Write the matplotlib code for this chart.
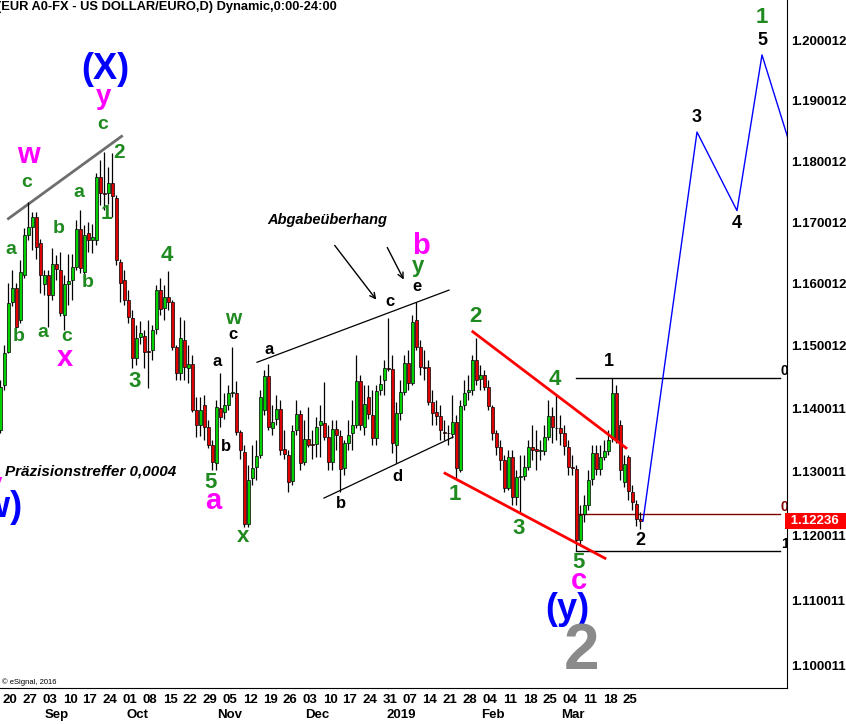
import numpy as np
import pandas as pd
import matplotlib
matplotlib.use('Agg')
from matplotlib import pyplot as plt
import matplotlib.transforms as mtransforms
from matplotlib.ticker import NullLocator

plt.rcParams['font.family'] = ['Liberation Sans', 'DejaVu Sans']

# daily candles, EUR A0-FX
days = pd.bdate_range('2018-08-17', '2019-03-29')

opens = [1.1366, 1.1438, 1.1490, 1.1571, 1.1593, 1.1542, 1.1614, 1.1679, 1.1692, 1.1709,
         1.1666, 1.1600, 1.1614, 1.1582, 1.1632, 1.1622, 1.1550, 1.1600, 1.1606, 1.1627,
         1.1689, 1.1619, 1.1683, 1.1671, 1.1671, 1.1774, 1.1748, 1.1748, 1.1764, 1.1740,
         1.1635, 1.1606, 1.1574, 1.1545, 1.1481, 1.1515, 1.1516, 1.1492, 1.1494, 1.1527,
         1.1590, 1.1561, 1.1579, 1.1571, 1.1498, 1.1457, 1.1510, 1.1465, 1.1471, 1.1398,
         1.1374, 1.1406, 1.1371, 1.1342, 1.1314, 1.1401, 1.1395, 1.1406, 1.1425, 1.1425,
         1.1363, 1.1332, 1.1218, 1.1291, 1.1308, 1.1327, 1.1398, 1.1452, 1.1369, 1.1384,
         1.1400, 1.1336, 1.1327, 1.1286, 1.1366, 1.1392, 1.1316, 1.1352, 1.1344, 1.1344,
         1.1374, 1.1377, 1.1355, 1.1316, 1.1368, 1.1357, 1.1306, 1.1346, 1.1362, 1.1374,
         1.1444, 1.1371, 1.1419, 1.1390, 1.1354, 1.1430, 1.1446, 1.1465, 1.1463, 1.1343,
         1.1393, 1.1427, 1.1473, 1.1441, 1.1542, 1.1498, 1.1467, 1.1466, 1.1411, 1.1395,
         1.1388, 1.1363, 1.1362, 1.1360, 1.1379, 1.1303, 1.1406, 1.1427, 1.1430, 1.1478,
         1.1447, 1.1454, 1.1434, 1.1403, 1.1362, 1.1339, 1.1319, 1.1275, 1.1324, 1.1261,
         1.1292, 1.1294, 1.1308, 1.1339, 1.1336, 1.1333, 1.1333, 1.1355, 1.1389, 1.1370,
         1.1369, 1.1362, 1.1339, 1.1308, 1.1305, 1.1193, 1.1234, 1.1248, 1.1289, 1.1330,
         1.1305, 1.1324, 1.1333, 1.1354, 1.1425, 1.1374, 1.1284, 1.1324, 1.1269, 1.1250,
         1.1226]
highs = [1.1446, 1.1502, 1.1601, 1.1622, 1.1601, 1.1639, 1.1691, 1.1733, 1.1717, 1.1717,
         1.1672, 1.1622, 1.1622, 1.1658, 1.1647, 1.1651, 1.1614, 1.1648, 1.1648, 1.1704,
         1.1720, 1.1696, 1.1700, 1.1697, 1.1781, 1.1802, 1.1815, 1.1790, 1.1813, 1.1745,
         1.1640, 1.1622, 1.1590, 1.1558, 1.1534, 1.1541, 1.1526, 1.1542, 1.1534, 1.1598,
         1.1609, 1.1598, 1.1621, 1.1574, 1.1502, 1.1547, 1.1542, 1.1502, 1.1486, 1.1419,
         1.1419, 1.1422, 1.1382, 1.1350, 1.1414, 1.1457, 1.1425, 1.1438, 1.1499, 1.1444,
         1.1366, 1.1342, 1.1311, 1.1343, 1.1350, 1.1430, 1.1462, 1.1471, 1.1406, 1.1422,
         1.1414, 1.1366, 1.1335, 1.1374, 1.1414, 1.1398, 1.1382, 1.1403, 1.1366, 1.1387,
         1.1406, 1.1443, 1.1374, 1.1382, 1.1382, 1.1366, 1.1350, 1.1382, 1.1414, 1.1486,
         1.1454, 1.1438, 1.1438, 1.1430, 1.1438, 1.1454, 1.1478, 1.1545, 1.1486, 1.1411,
         1.1446, 1.1486, 1.1494, 1.1550, 1.1571, 1.1510, 1.1494, 1.1478, 1.1430, 1.1414,
         1.1406, 1.1382, 1.1374, 1.1422, 1.1390, 1.1414, 1.1446, 1.1454, 1.1486, 1.1513,
         1.1470, 1.1462, 1.1446, 1.1406, 1.1366, 1.1350, 1.1327, 1.1335, 1.1335, 1.1303,
         1.1327, 1.1327, 1.1350, 1.1374, 1.1366, 1.1350, 1.1374, 1.1414, 1.1403, 1.1422,
         1.1390, 1.1374, 1.1350, 1.1327, 1.1311, 1.1248, 1.1264, 1.1303, 1.1343, 1.1343,
         1.1343, 1.1350, 1.1366, 1.1449, 1.1438, 1.1382, 1.1327, 1.1327, 1.1279, 1.1256,
         1.1237]
lows = [1.1362, 1.1430, 1.1489, 1.1564, 1.1529, 1.1537, 1.1610, 1.1671, 1.1655, 1.1640,
        1.1585, 1.1582, 1.1531, 1.1574, 1.1606, 1.1548, 1.1526, 1.1566, 1.1574, 1.1622,
        1.1618, 1.1603, 1.1652, 1.1650, 1.1663, 1.1728, 1.1720, 1.1730, 1.1709, 1.1631,
        1.1571, 1.1566, 1.1537, 1.1465, 1.1470, 1.1503, 1.1465, 1.1433, 1.1478, 1.1519,
        1.1550, 1.1542, 1.1558, 1.1494, 1.1446, 1.1446, 1.1446, 1.1441, 1.1395, 1.1355,
        1.1357, 1.1350, 1.1338, 1.1303, 1.1303, 1.1371, 1.1383, 1.1398, 1.1419, 1.1358,
        1.1320, 1.1214, 1.1214, 1.1280, 1.1287, 1.1322, 1.1390, 1.1366, 1.1358, 1.1374,
        1.1327, 1.1320, 1.1268, 1.1280, 1.1358, 1.1303, 1.1311, 1.1339, 1.1320, 1.1324,
        1.1324, 1.1350, 1.1303, 1.1303, 1.1335, 1.1268, 1.1296, 1.1335, 1.1335, 1.1369,
        1.1366, 1.1358, 1.1383, 1.1342, 1.1342, 1.1422, 1.1422, 1.1460, 1.1330, 1.1314,
        1.1382, 1.1422, 1.1430, 1.1438, 1.1494, 1.1454, 1.1446, 1.1406, 1.1374, 1.1374,
        1.1350, 1.1350, 1.1342, 1.1354, 1.1290, 1.1300, 1.1398, 1.1414, 1.1422, 1.1438,
        1.1430, 1.1430, 1.1398, 1.1350, 1.1327, 1.1303, 1.1268, 1.1271, 1.1248, 1.1248,
        1.1236, 1.1287, 1.1303, 1.1319, 1.1303, 1.1319, 1.1327, 1.1350, 1.1346, 1.1350,
        1.1343, 1.1327, 1.1296, 1.1295, 1.1176, 1.1186, 1.1222, 1.1240, 1.1280, 1.1296,
        1.1296, 1.1319, 1.1327, 1.1348, 1.1346, 1.1287, 1.1276, 1.1256, 1.1240, 1.1216,
        1.1211]
closes = [1.1435, 1.1489, 1.1569, 1.1593, 1.1531, 1.1619, 1.1679, 1.1692, 1.1709, 1.1660,
          1.1614, 1.1614, 1.1582, 1.1632, 1.1624, 1.1553, 1.1600, 1.1605, 1.1627, 1.1689,
          1.1626, 1.1679, 1.1671, 1.1676, 1.1774, 1.1748, 1.1746, 1.1764, 1.1743, 1.1639,
          1.1601, 1.1574, 1.1547, 1.1481, 1.1513, 1.1521, 1.1490, 1.1490, 1.1526, 1.1590,
          1.1559, 1.1579, 1.1571, 1.1498, 1.1457, 1.1513, 1.1467, 1.1471, 1.1398, 1.1374,
          1.1398, 1.1371, 1.1342, 1.1316, 1.1403, 1.1387, 1.1406, 1.1425, 1.1427, 1.1363,
          1.1335, 1.1218, 1.1287, 1.1306, 1.1325, 1.1419, 1.1452, 1.1371, 1.1379, 1.1400,
          1.1335, 1.1328, 1.1284, 1.1365, 1.1392, 1.1314, 1.1352, 1.1343, 1.1343, 1.1371,
          1.1381, 1.1355, 1.1316, 1.1368, 1.1358, 1.1305, 1.1346, 1.1358, 1.1374, 1.1444,
          1.1374, 1.1408, 1.1392, 1.1354, 1.1428, 1.1439, 1.1465, 1.1463, 1.1346, 1.1393,
          1.1427, 1.1473, 1.1441, 1.1539, 1.1498, 1.1467, 1.1465, 1.1411, 1.1393, 1.1388,
          1.1366, 1.1362, 1.1361, 1.1379, 1.1306, 1.1404, 1.1425, 1.1430, 1.1478, 1.1446,
          1.1454, 1.1435, 1.1404, 1.1362, 1.1339, 1.1319, 1.1275, 1.1324, 1.1261, 1.1292,
          1.1294, 1.1308, 1.1339, 1.1335, 1.1333, 1.1334, 1.1355, 1.1389, 1.1371, 1.1369,
          1.1362, 1.1341, 1.1308, 1.1307, 1.1193, 1.1233, 1.1248, 1.1287, 1.1330, 1.1305,
          1.1324, 1.1333, 1.1351, 1.1425, 1.1351, 1.1303, 1.1313, 1.1270, 1.1253, 1.1226,
          1.12236]

price_ticks = [1.100011, 1.110011, 1.120011, 1.130011, 1.140011, 1.150012,
               1.160012, 1.170012, 1.180012, 1.190012, 1.200012]
price_labels = ['%.6f' % p for p in price_ticks]
last_price = 1.12236

# drawn lines: (bar index, price)
grey_x, grey_y = [2.1, 30.4], [1.1706, 1.1841]
chan_up_x, chan_up_y = [64.25, 112.25], [1.1474, 1.1590]
chan_lo_x, chan_lo_y = [81.0, 113.25], [1.1259, 1.1355]
red_up_x, red_up_y = [118.2, 156.5], [1.1523, 1.1338]
red_lo_x, red_lo_y = [111.25, 151.25], [1.1298, 1.1165]
levels = [1.1449, 1.1234, 1.1176]
level_colors = ['black', '#800000', 'black']
level_marks = ['0', '0', '1']
proj_x = [160.75, 174.25, 184.25, 190.5, 197.5]
proj_y = [1.1223, 1.1848, 1.1719, 1.1976, 1.1827]

GREEN = '#1f8a1f'
MAG = '#ff00ff'
BLUE = '#0000ff'

# wave labels: (text, bar index, price, colour, size)
waves = [
    ('(X)', 26.25, 1.1951, BLUE, 26), ('y', 26.0, 1.1906, MAG, 20),
    ('c', 25.7, 1.1860, GREEN, 14), ('w', 7.1, 1.1810, MAG, 21),
    ('2', 29.75, 1.1815, GREEN, 15), ('c', 6.7, 1.1765, GREEN, 14),
    ('a', 19.75, 1.1749, GREEN, 14), ('1', 26.5, 1.1715, GREEN, 15),
    ('b', 14.75, 1.1690, GREEN, 14), ('a', 2.7, 1.1655, GREEN, 14),
    ('b', 21.8, 1.1602, GREEN, 14), ('4', 41.7, 1.1646, GREEN, 16),
    ('b', 4.75, 1.1515, GREEN, 14), ('a', 10.7, 1.1522, GREEN, 14),
    ('c', 16.7, 1.1515, GREEN, 14), ('x', 16.25, 1.1481, MAG, 21),
    ('3', 33.75, 1.1443, GREEN, 16), ('w', 58.3, 1.1545, GREEN, 15),
    ('c', 58.3, 1.1519, 'black', 12), ('a', 54.3, 1.1476, 'black', 12),
    ('a', 67.3, 1.1495, 'black', 12), ('b', 56.5, 1.1340, 'black', 12),
    ('5', 52.7, 1.1284, GREEN, 16), ('a', 53.2, 1.1255, MAG, 21),
    ('x', 60.8, 1.1199, GREEN, 16), ('c', 97.5, 1.1572, 'black', 12),
    ('e', 104.3, 1.1596, 'black', 12), ('b', 105.25, 1.1662, MAG, 21),
    ('y', 104.5, 1.1628, GREEN, 16), ('b', 85.25, 1.1251, 'black', 12),
    ('d', 99.3, 1.1293, 'black', 12), ('2', 118.75, 1.1548, GREEN, 16),
    ('1', 113.75, 1.1264, GREEN, 16), ('3', 129.6, 1.1212, GREEN, 16),
    ('4', 138.75, 1.1447, GREEN, 16), ('1', 152.3, 1.1475, 'black', 13),
    ('2', 160.2, 1.1193, 'black', 13), ('5', 144.75, 1.1158, GREEN, 16),
    ('c', 144.75, 1.1130, MAG, 21), ('(y)', 141.75, 1.1086, BLUE, 26),
    ('2', 145.25, 1.1020, '#8a8a8a', 46), ('3', 174.25, 1.1872, 'black', 13),
    ('4', 184.25, 1.1698, 'black', 13), ('5', 190.5, 1.2000, 'black', 13),
    ('1', 190.5, 1.2038, GREEN, 16),
]

fig = plt.figure(figsize=(8.46, 7.24), dpi=100, facecolor='white')
ax = fig.add_axes([0, 36 / 724, 787 / 846, 688 / 724])
ax.set_yscale('log')
ax.set_xlim(0, 196.75)
ax.set_ylim(1.0965, 1.2068)

x = np.arange(len(days))
o = np.array(opens)
h = np.array(highs)
l = np.array(lows)
c = np.array(closes)
up = c >= o

# trend lines
ax.plot(grey_x, grey_y, color='#6e6e6e', lw=2, zorder=1)
ax.plot(chan_up_x, chan_up_y, color='black', lw=0.9, zorder=1)
ax.plot(chan_lo_x, chan_lo_y, color='black', lw=0.9, zorder=1)
for lev, col, mk in zip(levels, level_colors, level_marks):
    ax.plot([144, 195], [lev, lev], color=col, lw=1, zorder=1)
    ax.text(195.2, lev, mk, color=col, fontsize=10, fontweight='bold',
            ha='left', va='bottom', clip_on=True)

# candles
ax.vlines(x, l, h, color='black', lw=0.9, zorder=2)
ax.bar(x, np.abs(c - o), bottom=np.minimum(o, c), width=0.75,
       color=np.where(up, '#00d000', '#e00000'), edgecolor='black',
       linewidth=0.5, zorder=3)

ax.plot(red_up_x, red_up_y, color='#ff0000', lw=2, zorder=4)
ax.plot(red_lo_x, red_lo_y, color='#ff0000', lw=2, zorder=4)
ax.plot(proj_x, proj_y, color=BLUE, lw=1, zorder=4)

for txt, xi, yi, col, fs in waves:
    ax.text(xi, yi, txt, color=col, fontsize=fs, fontweight='bold',
            ha='center', va='center', zorder=5)

ax.text(5.5, 1.1245, '(w)', color=BLUE, fontsize=26, fontweight='bold',
        ha='right', va='center')
ax.text(0.6, 1.1280, 'y', color=MAG, fontsize=20, fontweight='bold',
        ha='right', va='center')
ax.text(1.25, 1.1300, 'Präzisionstreffer 0,0004', fontsize=11,
        fontweight='bold', style='italic', ha='left', va='center')
ax.text(81.75, 1.1704, 'Abgabeüberhang', fontsize=10.5, fontweight='bold',
        style='italic', ha='center', va='center')
ax.annotate('', xy=(94.5, 1.1571), xytext=(83.25, 1.1666),
            arrowprops=dict(arrowstyle='->', color='black', lw=1))
ax.annotate('', xy=(101.25, 1.1603), xytext=(96.5, 1.1663),
            arrowprops=dict(arrowstyle='->', color='black', lw=1))
ax.text(0.5, 1.0974, '© eSignal, 2016', fontsize=5.5, ha='left', va='center')

# axes look
for side in ('left', 'top'):
    ax.spines[side].set_visible(False)
ax.spines['right'].set_color('black')
ax.spines['bottom'].set_color('black')

ax.yaxis.tick_right()
ax.set_yticks(price_ticks, labels=price_labels)
ax.yaxis.set_minor_locator(NullLocator())
ax.tick_params(axis='y', length=0, pad=3, labelsize=9.5)
for lbl in ax.get_yticklabels():
    lbl.set_fontweight('bold')

mondays = [i for i, dt in enumerate(days) if dt.weekday() == 0]
ax.set_xticks([m + 1.5 for m in mondays],
              labels=[days[m].strftime('%d') for m in mondays])
ax.xaxis.set_minor_locator(NullLocator())
ax.tick_params(axis='x', length=0, pad=4, labelsize=9.5)
for lbl in ax.get_xticklabels():
    lbl.set_fontweight('bold')
    lbl.set_fontstretch('condensed')

trans = mtransforms.blended_transform_factory(ax.transData, ax.transAxes)
firsts = [i for i in range(1, len(days)) if days[i].month != days[i - 1].month]
for i in firsts:
    name = days[i].strftime('%Y') if days[i].month == 1 else days[i].strftime('%b')
    ax.text(i + 3.3, -0.039, name, transform=trans, ha='center', va='center',
            fontsize=9.5, fontweight='bold')

tr_r = mtransforms.blended_transform_factory(ax.transAxes, ax.transData)
ax.text(1.0, last_price, ' %.5f  ' % last_price, transform=tr_r, color='white',
        fontsize=9.5, fontweight='bold', ha='left', va='center', clip_on=False,
        bbox=dict(boxstyle='square,pad=0.15', fc='#ff0000', ec='none'), zorder=6)

fig.text(-0.004, 1 - 7 / 724, '(EUR A0-FX - US DOLLAR/EURO,D) Dynamic,0:00-24:00',
         ha='left', va='center', fontsize=9.3, fontweight='bold')

fig.savefig('out.png', dpi=100, facecolor='white')
